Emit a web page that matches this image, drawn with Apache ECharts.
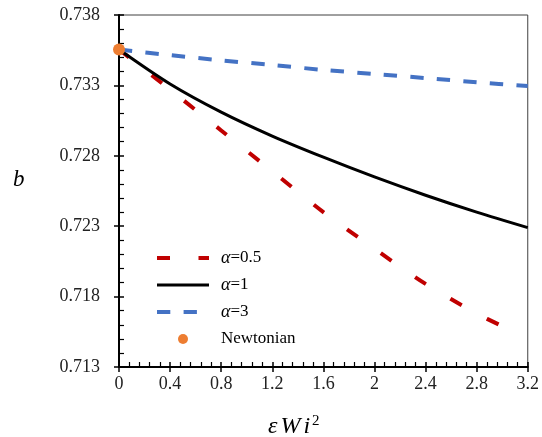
<!DOCTYPE html>
<html>
<head>
<meta charset="utf-8">
<script src="https://cdn.jsdelivr.net/npm/echarts@6/dist/echarts.min.js"></script>
<style>
  html, body { margin: 0; padding: 0; background: #fff; }
  #chart { width: 542px; height: 437px; }
</style>
</head>
<body>
<div id="chart"></div>
<script>
// x values (eps*Wi^2)
var xFull = [0, 0.4, 0.8, 1.2, 1.6, 2.0, 2.4, 2.8, 3.2];
var xHalf = [0, 0.4, 0.8, 1.2, 1.6, 2.0, 2.4, 2.8, 3.0];
// b values
var bAlpha05 = [0.73555, 0.7327, 0.7298, 0.7269, 0.7240, 0.7214, 0.7189, 0.7168, 0.7159];
var bAlpha1 = [0.73555, 0.7331, 0.7311, 0.7294, 0.7279, 0.7265, 0.7252, 0.7240, 0.7229];
var bAlpha3 = [0.73555, 0.73515, 0.73478, 0.73445, 0.73410, 0.73381, 0.73352, 0.73322, 0.73295];
var newtonian = [[0, 0.73555]];
var xTicks = [0, 0.4, 0.8, 1.2, 1.6, 2, 2.4, 2.8, 3.2];
var yTicks = [0.713, 0.718, 0.723, 0.728, 0.733, 0.738];

// y axis is drawn in thousandths above the lowest tick, so ticks land on multiples of the interval
var yBase = yTicks[0];
function toAxis(b) { return Math.round((b - yBase) * 100000) / 100; }
function pairs(xs, bs) {
	var out = [];
	for (var i = 0; i < xs.length; i++) {
		out.push([xs[i], toAxis(bs[i])]);
	}
	return out;
}

var serif = 'Liberation Serif';
var yMax = toAxis(yTicks[yTicks.length - 1]);
var yStep = toAxis(yTicks[1]);
var hidden = { color: 'rgba(0,0,0,0)', borderWidth: 0, opacity: 0 };
var redDash = [13, 28.5];
var blueDash = [13.3, 13.3];

var chart = echarts.init(document.getElementById('chart'));
var option = {
	animation: false,
	backgroundColor: '#ffffff',
	grid: {
		left: 119, right: 13, top: 15, bottom: 70,
		show: true, borderColor: '#404040', borderWidth: 1
	},
	legend: {
		orient: 'vertical',
		left: 155,
		top: 249,
		padding: 0,
		itemWidth: 52,
		itemHeight: 10,
		itemGap: 9,
		selectedMode: false,
		textStyle: {
			fontFamily: serif, fontSize: 17, color: '#000', lineHeight: 18,
			padding: [0, 0, 0, 7],
			rich: {
				i: { fontFamily: serif, fontStyle: 'italic', fontSize: 18, lineHeight: 18 }
			}
		},
		formatter: function(name) {
			if (name.indexOf('α') === 0) {
				return '{i|α}' + name.substr(1);
			}
			return name;
		},
		data: [
			{ name: 'α=0.5', itemStyle: hidden, lineStyle: { width: 4, type: redDash } },
			{ name: 'α=1', itemStyle: hidden, lineStyle: { width: 3 } },
			{ name: 'α=3', itemStyle: hidden, lineStyle: { width: 4, type: blueDash } },
			{ name: 'Newtonian', icon: 'circle', itemStyle: { color: '#ED7D31', opacity: 1 } }
		]
	},
	xAxis: [{
		type: 'value',
		position: 'bottom',
		min: 0, max: 3.2, interval: 0.4,
		axisLine: { show: true, onZero: false, lineStyle: { color: '#000', width: 2 } },
		axisTick: { show: true, inside: false, length: 5, lineStyle: { color: '#000', width: 1.5 } },
		minorTick: { show: false },
		splitLine: { show: false },
		axisLabel: {
			margin: 8, fontFamily: serif, fontSize: 18, color: '#222',
			formatter: function(v) { return String(Math.round(v * 10) / 10); }
		}
	}, {
		type: 'value',
		position: 'bottom',
		offset: 0,
		min: 0, max: 3.2, interval: 0.4,
		axisLine: { show: false },
		axisTick: { show: true, inside: true, length: 5, lineStyle: { color: '#000', width: 1.5 } },
		minorTick: { show: true, splitNumber: 5, length: 5, lineStyle: { color: '#000', width: 1.2 } },
		splitLine: { show: false },
		axisLabel: { show: false }
	}],
	yAxis: [{
		type: 'value',
		position: 'left',
		min: 0, max: yMax, interval: yStep,
		axisLine: { show: true, onZero: false, lineStyle: { color: '#000', width: 2 } },
		axisTick: { show: true, inside: false, length: 5, lineStyle: { color: '#000', width: 1.5 } },
		minorTick: { show: false },
		splitLine: { show: false },
		axisLabel: {
			margin: 19, fontFamily: serif, fontSize: 18, color: '#222',
			formatter: function(v) { return (yBase + v / 1000).toFixed(3); }
		}
	}, {
		type: 'value',
		position: 'left',
		offset: 0,
		min: 0, max: yMax, interval: yStep,
		axisLine: { show: false },
		axisTick: { show: true, inside: true, length: 5, lineStyle: { color: '#000', width: 1.5 } },
		minorTick: { show: true, splitNumber: 5, length: 5, lineStyle: { color: '#000', width: 1.2 } },
		splitLine: { show: false },
		axisLabel: { show: false }
	}],
	graphic: [{
		type: 'text',
		left: 13, top: 168,
		style: { text: 'b', fontFamily: serif, fontStyle: 'italic', fontSize: 23, fill: '#000' }
	}, {
		type: 'text',
		left: 268, top: 414,
		style: {
			text: 'ε{w|W}{w|i}{s|2}', fontFamily: serif, fontStyle: 'italic', fontSize: 24, fill: '#000',
			rich: {
				w: { fontFamily: serif, fontStyle: 'italic', fontSize: 24, padding: [0, 0, 0, 3] },
				s: { fontFamily: serif, fontSize: 15, verticalAlign: 'top', padding: [0, 0, 10, 2] }
			}
		}
	}],
	series: [{
		name: 'α=0.5',
		type: 'line',
		xAxisIndex: 0, yAxisIndex: 0,
		showSymbol: false, symbol: 'none',
		smooth: 0.3,
		lineStyle: { color: '#C00000', width: 4, type: redDash },
		itemStyle: { color: '#C00000' },
		data: pairs(xHalf, bAlpha05)
	}, {
		name: 'α=1',
		type: 'line',
		xAxisIndex: 0, yAxisIndex: 0,
		showSymbol: false, symbol: 'none',
		smooth: 0.3,
		lineStyle: { color: '#000000', width: 3, type: 'solid' },
		itemStyle: { color: '#000000' },
		data: pairs(xFull, bAlpha1)
	}, {
		name: 'α=3',
		type: 'line',
		xAxisIndex: 0, yAxisIndex: 0,
		showSymbol: false, symbol: 'none',
		smooth: 0.3,
		lineStyle: { color: '#4472C4', width: 4, type: blueDash },
		itemStyle: { color: '#4472C4' },
		data: pairs(xFull, bAlpha3)
	}, {
		name: 'Newtonian',
		type: 'scatter',
		xAxisIndex: 0, yAxisIndex: 0,
		clip: false,
		symbolSize: 12,
		z: 5,
		itemStyle: { color: '#ED7D31', opacity: 1 },
		data: newtonian.map(function(p) { return [p[0], toAxis(p[1])]; })
	}]
};
chart.setOption(option);
</script>
</body>
</html>
